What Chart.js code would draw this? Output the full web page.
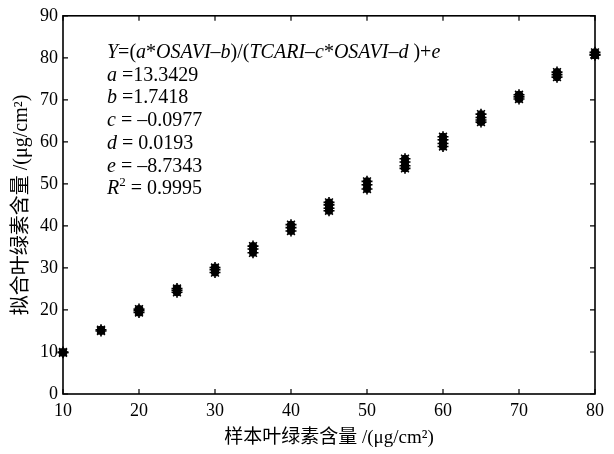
<!DOCTYPE html>
<html>
<head>
<meta charset="utf-8">
<script src="https://cdn.jsdelivr.net/npm/chart.js@4"></script>
<style>
  html, body { margin: 0; padding: 0; background: #fff; }
  #wrap { width: 614px; height: 454px; }
</style>
</head>
<body>
<div id="wrap"><canvas id="fitChart"></canvas></div>
<script>
// sample chlorophyll levels (x) and fitted values (y)
const sampleLevels = [10, 15, 20, 25, 30, 35, 40, 45, 50, 55, 60, 65, 70, 75, 80];
const fittedValues = [
	[10.0, 9.8],
	[15.3, 15.0],
	[20.2, 19.8, 19.4],
	[25.1, 24.7, 24.2],
	[30.1, 29.6, 28.9],
	[35.2, 34.5, 33.6],
	[40.3, 39.6, 38.8],
	[45.6, 45.0, 44.2, 43.6],
	[50.6, 49.8, 48.8],
	[56.0, 55.2, 54.3, 53.7],
	[61.2, 60.5, 59.6, 58.9],
	[66.6, 65.8, 65.2, 64.7],
	[71.2, 70.7, 70.2],
	[76.6, 76.0, 75.4],
	[81.3, 80.8, 80.6],
];
const xTicks = [10, 20, 30, 40, 50, 60, 70, 80];
const yTicks = [0, 10, 20, 30, 40, 50, 60, 70, 80, 90];

const xTitle = '样本叶绿素含量 /(μg/cm²)';
const yTitle = '拟合叶绿素含量 /(μg/cm²)';

// equation box, [text, style] runs: i = italic, n = normal, s = superscript
const eqLines = [
	[['Y', 'i'], ['=(', 'n'], ['a', 'i'], ['*', 'n'], ['OSAVI', 'i'], ['–', 'n'], ['b', 'i'], [')/(', 'n'],
	 ['TCARI', 'i'], ['–', 'n'], ['c', 'i'], ['*', 'n'], ['OSAVI', 'i'], ['–', 'n'], ['d', 'i'], [' )+', 'n'], ['e', 'i']],
	[['a', 'i'], [' =13.3429', 'n']],
	[['b', 'i'], [' =1.7418', 'n']],
	[['c', 'i'], [' = –0.0977', 'n']],
	[['d', 'i'], [' = 0.0193', 'n']],
	[['e', 'i'], [' = –8.7343', 'n']],
	[['R', 'i'], ['2', 's'], [' = 0.9995', 'n']],
];

const points = [];
sampleLevels.forEach((x, i) => {
	fittedValues[i].forEach(y => points.push({ x: x, y: y }));
});

const serif = "'Liberation Serif', 'Times New Roman', serif";

// frame + inward ticks on all four sides, then the equation text
const framePlugin = {
	id: 'frame',
	afterDraw(chart) {
		const { ctx, chartArea: a, scales } = chart;
		ctx.save();
		ctx.strokeStyle = '#000';
		ctx.lineWidth = 1.6;
		ctx.strokeRect(a.left, a.top, a.right - a.left, a.bottom - a.top);
		ctx.lineWidth = 1.2;
		ctx.beginPath();
		xTicks.forEach(v => {
			const px = scales.x.getPixelForValue(v);
			ctx.moveTo(px, a.bottom); ctx.lineTo(px, a.bottom - 5);
			ctx.moveTo(px, a.top); ctx.lineTo(px, a.top + 5);
		});
		yTicks.forEach(v => {
			const py = scales.y.getPixelForValue(v);
			ctx.moveTo(a.left, py); ctx.lineTo(a.left + 5, py);
			ctx.moveTo(a.right, py); ctx.lineTo(a.right - 5, py);
		});
		ctx.stroke();

		ctx.fillStyle = '#000';
		ctx.textBaseline = 'middle';
		eqLines.forEach((runs, i) => {
			let x = a.left + 44;
			const y = a.top + 37 + i * 22.7;
			runs.forEach(([txt, st]) => {
				if (st === 's') {
					ctx.font = '13px ' + serif;
					ctx.fillText(txt, x, y - 6);
				} else {
					ctx.font = (st === 'i' ? 'italic ' : '') + '20px ' + serif;
					ctx.fillText(txt, x, y);
				}
				x += ctx.measureText(txt).width;
			});
		});
		ctx.restore();
	},
};

const ctx = document.getElementById('fitChart').getContext('2d');

new Chart(ctx, {
	type: 'scatter',
	data: {
		datasets: [
			{
				data: points,
				pointStyle: 'circle',
				pointRadius: 4,
				backgroundColor: '#000',
				borderColor: '#000',
				borderWidth: 0,
				clip: false,
			},
			{
				data: points,
				pointStyle: 'star',
				pointRadius: 5.5,
				borderColor: '#000',
				borderWidth: 1.6,
				clip: false,
			},
		],
	},
	options: {
		responsive: true,
		maintainAspectRatio: false,
		animation: false,
		events: [],
		layout: { padding: { top: 13, right: 19, left: 0, bottom: 0 } },
		plugins: {
			legend: { display: false },
			tooltip: { enabled: false },
		},
		scales: {
			x: {
				type: 'linear',
				min: 10,
				max: 80,
				grid: { display: false, drawTicks: false },
				border: { display: false },
				afterFit: s => { s.height = 60; },
				afterBuildTicks: s => { s.ticks = xTicks.map(v => ({ value: v })); },
				ticks: {
					color: '#000',
					padding: 6,
					maxRotation: 0,
					font: { family: serif, size: 18 },
				},
				title: {
					display: true,
					text: xTitle,
					color: '#000',
					padding: { top: 0, bottom: 5 },
					font: { family: "'Liberation Serif', 'Noto Sans CJK SC', serif", size: 19 },
				},
			},
			y: {
				type: 'linear',
				min: 0,
				max: 90,
				grid: { display: false, drawTicks: false },
				border: { display: false },
				afterFit: s => { s.width = 63; },
				afterBuildTicks: s => { s.ticks = yTicks.map(v => ({ value: v })); },
				ticks: {
					color: '#000',
					padding: 5,
					font: { family: serif, size: 18 },
				},
				title: {
					display: true,
					text: yTitle,
					color: '#000',
					padding: { top: 10, bottom: 0 },
					font: { family: "'Liberation Serif', 'Noto Sans CJK SC', serif", size: 20 },
				},
			},
		},
	},
	plugins: [framePlugin],
});
</script>
</body>
</html>
